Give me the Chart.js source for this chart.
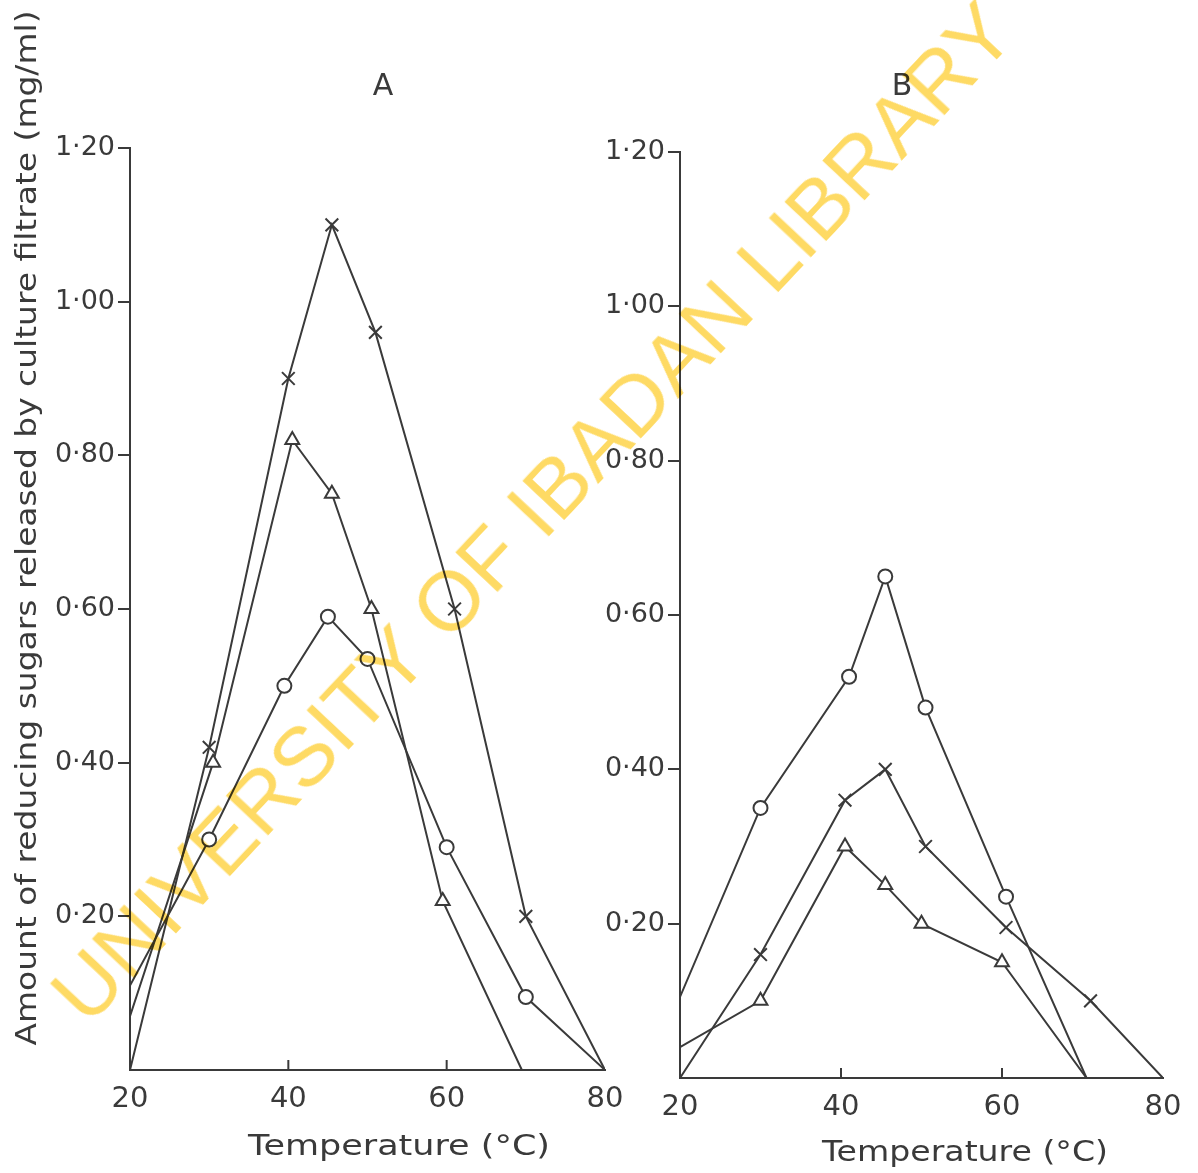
<!DOCTYPE html>
<html>
<head>
<meta charset="utf-8">
<script src="https://cdn.jsdelivr.net/npm/chart.js@4.4.0/dist/chart.umd.min.js"></script>
<style>
  body { margin: 0; background: #fff; }
  #wrap { position: relative; width: 1198px; height: 1173px; overflow: hidden; }
  #wrap canvas { position: absolute; top: 0; }
  #chartA { left: 0; }
  #chartB { left: 550px; }
  #mark {
    position: absolute; left: 532px; top: 512px;
    transform: translate(-50%, -50%) rotate(-46.8deg);
    font: 84px "Liberation Sans", Arial, sans-serif;
    line-height: 1; white-space: nowrap;
    color: rgb(254, 218, 100); mix-blend-mode: multiply;
    pointer-events: none;
  }
</style>
</head>
<body>
<div id="wrap">
  <canvas id="chartA" width="640" height="1173"></canvas>
  <canvas id="chartB" width="648" height="1173"></canvas>
  <div id="mark">UNIVERSITY OF IBADAN LIBRARY</div>
</div>
<script>
// Panel A
const xCrossA = [20, 30, 40, 45.5, 51, 61, 70, 80];
const yCrossA = [0, 0.42, 0.90, 1.10, 0.96, 0.60, 0.20, 0];
const xTriA = [20, 30.5, 40.5, 45.5, 50.5, 59.5, 69.5];
const yTriA = [0.07, 0.40, 0.82, 0.75, 0.60, 0.22, 0];
const xCircA = [20, 30, 39.5, 45, 50, 60, 70, 80];
const yCircA = [0.11, 0.30, 0.50, 0.59, 0.535, 0.29, 0.095, 0];

// Panel B
const xCircB = [20, 30, 41, 45.5, 50.5, 60.5, 70.5];
const yCircB = [0.105, 0.35, 0.52, 0.65, 0.48, 0.235, 0];
const xCrossB = [20, 30, 40.5, 45.5, 50.5, 60.5, 71, 80];
const yCrossB = [0, 0.16, 0.36, 0.40, 0.30, 0.195, 0.10, 0];
const xTriB = [20, 30, 40.5, 45.5, 50, 60, 70.5];
const yTriB = [0.04, 0.10, 0.30, 0.25, 0.20, 0.15, 0];

const xTicks = [20, 40, 60, 80];
const yTicks = [0.2, 0.4, 0.6, 0.8, 1.0, 1.2];

const ink = '#3a3a3a';
const font = '"DejaVu Sans", sans-serif';
const markerSize = { circle: 7, triangle: 8, crossRot: 9 };

function series(xs, ys, style) {
    const n = xs.length;
    return {
        data: xs.map((x, i) => ({ x: x, y: ys[i] })),
        showLine: true,
        borderColor: ink,
        borderWidth: 2,
        backgroundColor: '#fff',
        pointStyle: style,
        pointBorderColor: ink,
        pointBorderWidth: 2,
        pointBackgroundColor: '#fff',
        pointRadius: ctx => (ctx.dataIndex === 0 || ctx.dataIndex === n - 1) ? 0 : markerSize[style]
    };
}

// fits a text into a given width
function fitText(c, text, x, y, width, rotate) {
    c.save();
    c.translate(x, y);
    if (rotate) c.rotate(-Math.PI / 2);
    const w = c.measureText(text).width;
    c.scale(width / w, 1);
    c.fillText(text, 0, 0);
    c.restore();
}

const panelText = {
    id: 'panelText',
    afterDraw(chart, args, o) {
        const c = chart.ctx;
        const area = chart.chartArea;
        c.save();
        c.fillStyle = ink;
        c.textAlign = 'center';
        c.textBaseline = 'middle';
        c.font = '30px ' + font;
        c.fillText(o.letter, o.letterX, 87);
        c.font = '29px ' + font;
        fitText(c, 'Temperature (°C)', o.titleX, o.titleY, o.titleW, false);
        if (o.yTitle) {
            fitText(c, o.yTitle, 28, 528, 1035, true);
        }
        // short inward ticks on the x axis
        c.strokeStyle = ink;
        c.lineWidth = 2;
        xTicks.slice(1, -1).forEach(v => {
            const px = chart.scales.x.getPixelForValue(v);
            c.beginPath();
            c.moveTo(px, area.bottom);
            c.lineTo(px, area.bottom - 10);
            c.stroke();
        });
        c.restore();
    }
};

function makeChart(id, datasets, top, bottomH, text) {
    return new Chart(document.getElementById(id), {
        type: 'scatter',
        data: { datasets: datasets },
        plugins: [panelText],
        options: {
            responsive: false,
            animation: false,
            layout: { padding: { top: top, right: 35, left: 0, bottom: 0 } },
            plugins: {
                legend: { display: false },
                tooltip: { enabled: false },
                panelText: text
            },
            scales: {
                x: {
                    type: 'linear',
                    min: 20,
                    max: 80,
                    afterBuildTicks: s => { s.ticks = xTicks.map(v => ({ value: v })); },
                    afterFit: s => { s.height = bottomH; },
                    border: { display: true, color: ink, width: 2 },
                    grid: { display: true, drawOnChartArea: false, drawTicks: false },
                    ticks: { color: ink, padding: 12, font: { family: font, size: 29 } }
                },
                y: {
                    min: 0,
                    max: 1.2,
                    afterBuildTicks: s => { s.ticks = yTicks.map(v => ({ value: v })); },
                    afterFit: s => { s.width = 130; },
                    border: { display: true, color: ink, width: 2 },
                    grid: { drawOnChartArea: false, drawTicks: true, tickLength: 12, color: ink, lineWidth: 2 },
                    ticks: {
                        color: ink,
                        padding: 3,
                        font: { family: font, size: 27 },
                        callback: v => v.toFixed(2).replace('.', '·')
                    }
                }
            }
        }
    });
}

makeChart('chartA', [
    series(xCrossA, yCrossA, 'crossRot'),
    series(xTriA, yTriA, 'triangle'),
    series(xCircA, yCircA, 'circle')
], 148, 1173 - 1070, {
    letter: 'A', letterX: 383,
    titleX: 399, titleY: 1147, titleW: 302,
    yTitle: 'Amount of reducing sugars released by culture filtrate (mg/ml)'
});

makeChart('chartB', [
    series(xCircB, yCircB, 'circle'),
    series(xCrossB, yCrossB, 'crossRot'),
    series(xTriB, yTriB, 'triangle')
], 152, 1173 - 1078, {
    letter: 'B', letterX: 352,
    titleX: 415, titleY: 1153, titleW: 286
});
</script>
</body>
</html>
